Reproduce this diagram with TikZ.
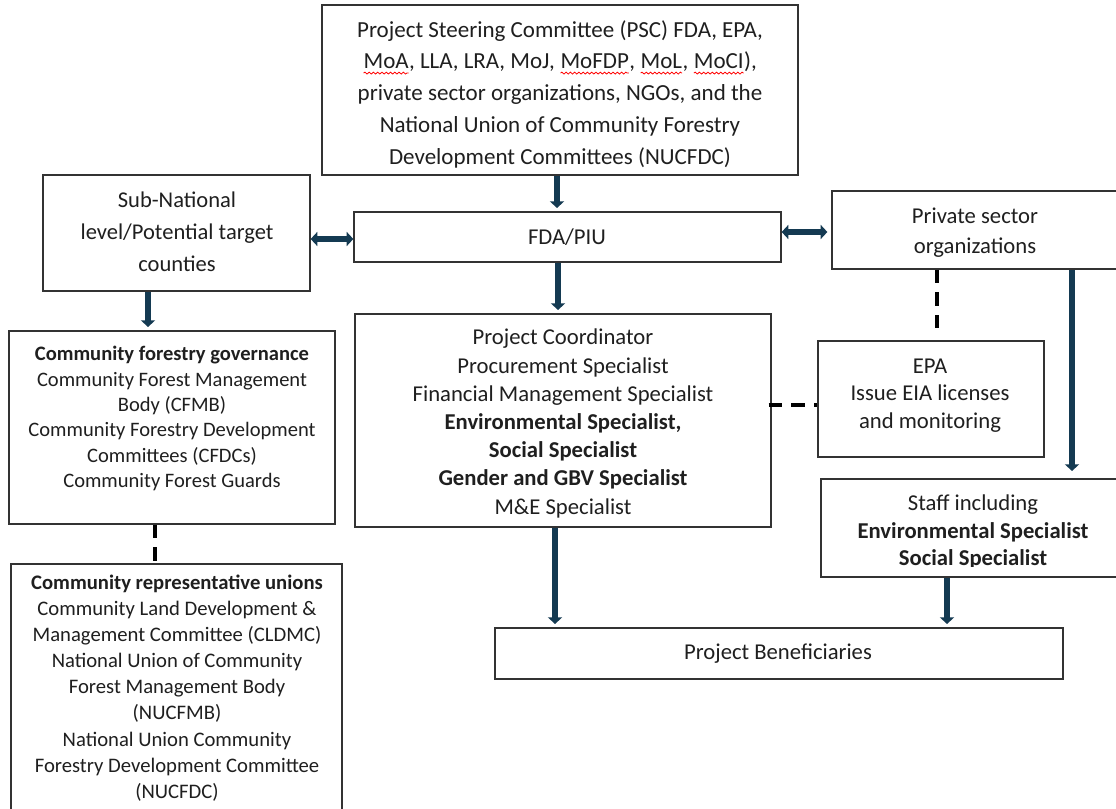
\documentclass[tikz,border=0pt]{standalone}
\usepackage{fontspec}
\setmainfont{Carlito}
\usetikzlibrary{arrows.meta,fit,calc,decorations.pathmorphing}
\definecolor{arrowc}{HTML}{143A52}
\definecolor{boxc}{HTML}{333333}
\newcommand\redwave[2]{\tikz[baseline=(#1.base)]{\node[inner sep=0pt,outer sep=0pt] (#1) {#2};
  \draw[red,line width=0.6pt,decorate,decoration={snake,amplitude=0.7pt,segment length=3.2pt}]
    ([yshift=-3.2pt]#1.base west) -- ([yshift=-3.2pt]#1.base east);}}
\tikzset{
  box/.style={draw=boxc, line width=1pt, inner sep=0pt},
  txt/.style={align=center, inner sep=0pt, text=black!88},
  arr/.style={draw=arrowc, line width=4pt, shorten >=2.5pt, -{Triangle[width=10.5pt,length=5pt]}},
  darr/.style={draw=arrowc, line width=4pt, {Triangle[width=10.5pt,length=5pt]}-{Triangle[width=10.5pt,length=5pt]}},
  dsh/.style={draw=black, line width=2.3pt, dash pattern=on 10pt off 7pt},
}
\begin{document}
\begin{tikzpicture}[x=0.75pt,y=-0.75pt]
\clip (0,0) rectangle (1116,809);
\fill[white] (0,0) rectangle (1116,809);
% boxes
\node[box, fit={(322,5) (798,175)}] (psc) {};
\node[box, fit={(43,175) (310,291)}] (sub) {};
\node[box, fit={(354,212) (781,262)}] (fda) {};
\node[box, fit={(832,191) (1130,269)}] (priv) {};
\node[box, fit={(9,331) (335,524)}] (cfg) {};
\node[box, fit={(355,314) (771,527)}] (pc) {};
\node[box, fit={(818,341) (1044,457)}] (epa) {};
\node[box, fit={(821,479) (1130,577)}] (staff) {};
\node[box, fit={(495,628) (1063,679)}] (ben) {};
\node[box, fit={(11,564) (342,840)}] (uni) {};
% texts
\begin{scope}
\clip (322,5) rectangle (798,169);
\node[txt, font=\fontsize{17.25}{23.8}\selectfont] (psct) at (560,94)
  {Project Steering Committee (PSC) FDA, EPA,\\
   \redwave{wa}{MoA}, LLA, LRA, MoJ, \redwave{wb}{MoFDP}, \redwave{wc}{MoL}, \redwave{wd}{MoCI}),\\
   private sector organizations, NGOs, and the\\
   National Union of Community Forestry\\
   Development Committees (NUCFDC)};
\end{scope}
\node[txt, font=\fontsize{16.9}{24}\selectfont] (subt) at (177,232)
  {Sub-National\\ level/Potential target\\ counties};
\node[txt, font=\fontsize{17}{21}\selectfont] (fdat) at (567,237) {FDA/PIU};
\node[txt, font=\fontsize{17}{22.5}\selectfont] (privt) at (975,232.5)
  {Private sector\\ organizations};
\node[txt, font=\fontsize{15.4}{19}\selectfont] (cfgt) at (172,418.5)
  {\textbf{Community forestry governance}\\
   Community Forest Management\\
   Body (CFMB)\\
   Community Forestry Development\\
   Committees (CFDCs)\\
   Community Forest Guards};
\node[txt, font=\fontsize{17}{21.15}\selectfont] (pct) at (563,423.5)
  {Project Coordinator\\
   Procurement Specialist\\
   Financial Management Specialist\\
   \textbf{Environmental Specialist,}\\
   \textbf{Social Specialist}\\
   \textbf{Gender and GBV Specialist}\\
   M\&E Specialist};
\node[txt, font=\fontsize{17}{20.6}\selectfont] (epat) at (930,395.5)
  {EPA\\ Issue EIA licenses\\ and monitoring};
\begin{scope}
\clip (821,479) rectangle (1116,566);
\node[txt, font=\fontsize{17}{20.6}\selectfont] (stafft) at (973,532)
  {Staff including\\ \textbf{Environmental Specialist}\\ \textbf{Social Specialist}};
\end{scope}
\node[txt, font=\fontsize{17}{21}\selectfont] (bent) at (778,654) {Project Beneficiaries};
\node[txt, font=\fontsize{15.5}{19.6}\selectfont] (unit) at (177,688)
  {\textbf{Community representative unions}\\
   Community Land Development \&\\
   Management Committee (CLDMC)\\
   National Union of Community\\
   Forest Management Body\\
   (NUCFMB)\\
   National Union Community\\
   Forestry Development Committee\\
   (NUCFDC)};
% helper coordinates
\coordinate (x557) at (557,0);
\coordinate (x558) at (558,0);
\coordinate (x555) at (555,0);
\coordinate (x148) at (148,0);
\coordinate (x947) at (947,0);
\coordinate (x1072) at (1072,0);
\coordinate (x155) at (155,0);
\coordinate (x937) at (937,0);
\coordinate (y239) at (0,239);
\coordinate (y232) at (0,232);
\coordinate (y405) at (0,405);
% connectors
\draw[arr] (psc.south -| x557) -- (fda.north -| x557);
\draw[arr] (fda.south -| x558) -- (pc.north -| x558);
\draw[arr] (sub.south -| x148) -- (cfg.north -| x148);
\draw[arr] (pc.south -| x555) -- (ben.north -| x555);
\draw[arr] (staff.south -| x947) -- (ben.north -| x947);
\draw[arr] (priv.south -| x1072) -- ($(staff.north -| x1072)+(0,-4)$);
\draw[darr] (sub.east |- y239) -- (fda.west |- y239);
\draw[darr] (fda.east |- y232) -- ($(priv.west |- y232)+(-4,0)$);
\draw[dsh] (cfg.south -| x155) -- (uni.north -| x155);
\draw[dsh] (priv.south -| x937) -- ($(epa.north -| x937)+(0,-6)$);
\draw[dsh] ($(pc.east |- y405)+(-3,0)$) -- (epa.west |- y405);
\end{tikzpicture}
\end{document}
